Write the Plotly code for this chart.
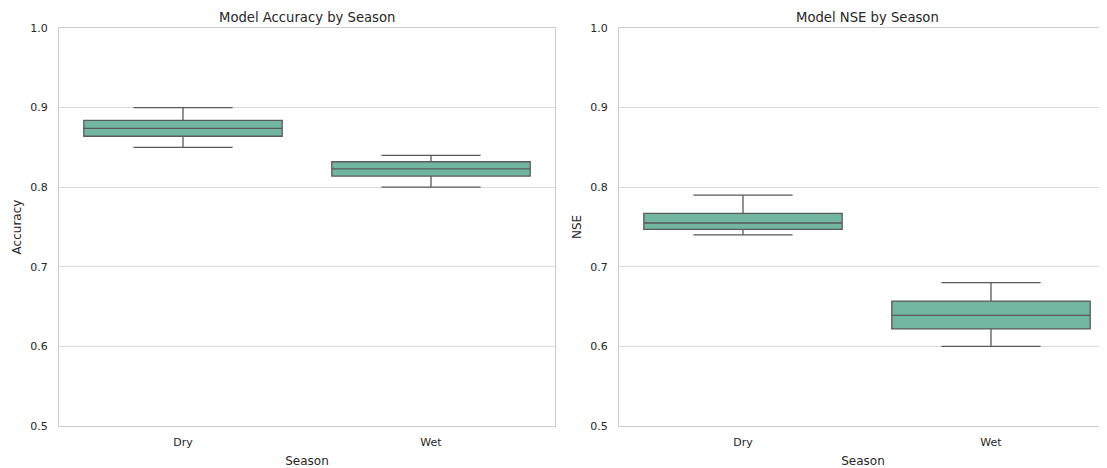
import plotly.graph_objects as go
from plotly.subplots import make_subplots

seasons = ["Dry", "Wet"]
acc_q1 = [0.864, 0.814]
acc_median = [0.874, 0.823]
acc_q3 = [0.884, 0.832]
acc_low = [0.85, 0.80]
acc_high = [0.90, 0.84]

nse_q1 = [0.747, 0.622]
nse_median = [0.755, 0.639]
nse_q3 = [0.767, 0.657]
nse_low = [0.74, 0.60]
nse_high = [0.79, 0.68]

y_ticks = [0.5, 0.6, 0.7, 0.8, 0.9, 1.0]

OFF = 8  # browser default body margin
W, H = 1107 - OFF, 468 - OFF
L, R, T, B = 59 - OFF, 0, 28 - OFF, 42
plot_w = W - L - R  # 1048 -> plot area spans page x 59..1107

fig = make_subplots(rows=1, cols=2)

fill = "#72b6a1"
line = "#5a5a5a"
txt = "#262626"

for col, (q1, med, q3, lo, hi) in enumerate([
        (acc_q1, acc_median, acc_q3, acc_low, acc_high),
        (nse_q1, nse_median, nse_q3, nse_low, nse_high)], start=1):
    fig.add_trace(go.Box(
        x=seasons, q1=q1, median=med, q3=q3, lowerfence=lo, upperfence=hi,
        fillcolor=fill, line=dict(color=line, width=1.3),
        whiskerwidth=0.5, width=0.8, showlegend=False, boxpoints=False,
        hoverinfo="skip"), row=1, col=col)

d1 = (555 - 59) / plot_w
d2 = (619 - 59) / plot_w
# right panel is clipped by the image edge in the reference (full width would be 496px)
right_w = 1107 - 619
x2_max = -0.5 + 2.0 * right_w / 496

fig.update_layout(
    width=W, height=H,
    margin=dict(l=L, r=R, t=T, b=B),
    paper_bgcolor="white", plot_bgcolor="white",
    font=dict(family="DejaVu Sans", size=11, color=txt),
)

axis_common = dict(showline=True, linecolor="#cccccc", linewidth=1,
                   zeroline=False, ticks="", automargin=False)
fig.update_xaxes(**axis_common, mirror=True, showgrid=False,
                 ticklabelstandoff=6,
                 title=dict(text="Season", font=dict(size=12, color=txt), standoff=8))
fig.update_xaxes(domain=[0, d1], range=[-0.5, 1.5], row=1, col=1)
fig.update_xaxes(domain=[d2, 1], range=[-0.5, x2_max], row=1, col=2)
fig.update_yaxes(**axis_common, showgrid=True, gridcolor="#d9d9d9", gridwidth=1,
                 range=[0.5, 1.0], tickvals=y_ticks, tickformat=".1f",
                 ticklabelstandoff=8)
fig.update_yaxes(mirror=True, title=dict(text="Accuracy", font=dict(size=12, color=txt), standoff=6), row=1, col=1)
fig.update_yaxes(mirror=False, title=dict(text="NSE", font=dict(size=12, color=txt), standoff=6), row=1, col=2)

fig.add_annotation(text="Model Accuracy by Season", xref="x domain", yref="y domain",
                   x=0.5, y=1, xanchor="center", yshift=1, yanchor="bottom", showarrow=False,
                   font=dict(size=13.2, color=txt))
fig.add_annotation(text="Model NSE by Season", xref="x2 domain", yref="y2 domain",
                   x=0.5 * 496 / right_w, y=1, xanchor="center", yshift=1, yanchor="bottom",
                   showarrow=False, font=dict(size=13.2, color=txt))

fig.write_html("out.html")
